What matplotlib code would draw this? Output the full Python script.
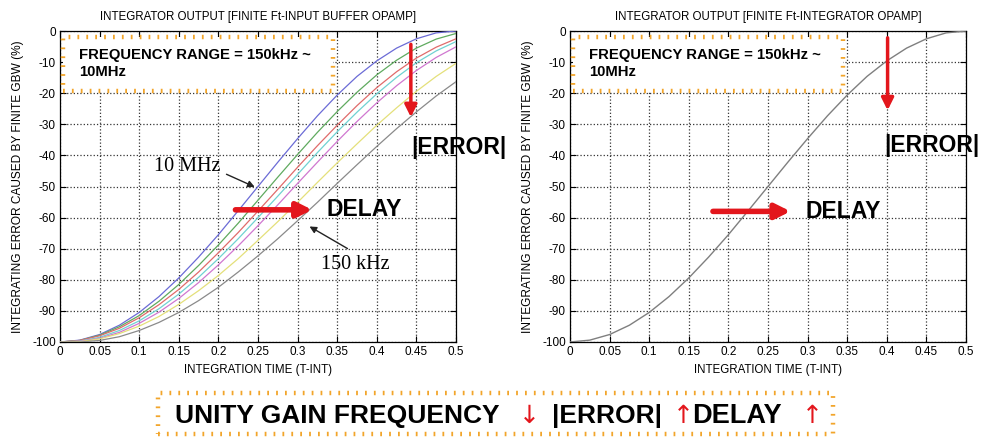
import numpy as np
import matplotlib
matplotlib.use("Agg")
import matplotlib.pyplot as plt
from matplotlib.patches import Rectangle

plt.rcParams['font.family'] = ['Liberation Sans', 'DejaVu Sans']
plt.rcParams['axes.unicode_minus'] = False

# integration time axis (T-INT)
t_int = [0, 0.025, 0.05, 0.075, 0.1, 0.125, 0.15, 0.175, 0.2, 0.225, 0.25,
         0.275, 0.3, 0.325, 0.35, 0.375, 0.4, 0.425, 0.45, 0.475, 0.5]

# integrating error (%) for the input buffer opamp, 10 MHz down to 150 kHz
err_blue = [-100, -99.4, -97.6, -94.6, -90.5, -85.4, -79.4, -72.7, -65.5, -57.8, -50.0,
            -42.2, -34.6, -27.3, -20.6, -14.6, -9.6, -5.5, -2.5, -0.6, 0.0]
err_green = [-100, -99.5, -97.8, -95.1, -91.5, -86.9, -81.5, -75.4, -68.8, -61.8, -54.4,
             -47.0, -39.7, -32.6, -25.9, -19.7, -14.1, -9.4, -5.5, -2.6, -0.8]
err_red = [-100, -99.5, -98.0, -95.6, -92.2, -88.0, -83.1, -77.5, -71.3, -64.8, -57.9,
           -50.9, -43.8, -36.9, -30.3, -24.0, -18.2, -13.1, -8.7, -5.2, -2.5]
err_cyan = [-100, -99.7, -98.5, -96.3, -93.2, -89.3, -84.6, -79.2, -73.2, -66.8, -60.0,
            -53.1, -46.1, -39.1, -32.4, -26.1, -20.2, -14.9, -10.2, -6.4, -3.4]
err_magenta = [-100, -99.8, -98.8, -96.9, -94.0, -90.4, -86.0, -80.9, -75.2, -69.1, -62.6,
               -55.9, -49.0, -42.2, -35.5, -29.1, -23.1, -17.6, -12.7, -8.5, -5.1]
err_yellow = [-100, -99.9, -99.0, -97.3, -94.9, -91.8, -87.9, -83.5, -78.6, -73.2, -67.3,
              -61.3, -55.1, -48.7, -42.4, -36.3, -30.3, -24.7, -19.4, -14.6, -10.4]
err_gray = [-100, -100.0, -99.5, -98.3, -96.3, -93.7, -90.5, -86.7, -82.4, -77.5, -72.3,
            -66.8, -61.0, -55.1, -49.0, -43.0, -37.1, -31.4, -26.0, -20.9, -16.3]

# integrator opamp case: single curve
err_integ = [-100, -99.4, -97.6, -94.6, -90.5, -85.4, -79.4, -72.7, -65.5, -57.8, -50.0,
             -42.2, -34.6, -27.3, -20.6, -14.6, -9.6, -5.5, -2.5, -0.6, 0.0]

buffer_curves = [err_blue, err_green, err_red, err_cyan, err_magenta, err_yellow, err_gray]
buffer_colors = ['#6b6bd6', '#5faa5f', '#e06b6b', '#70d2d2', '#d077d0', '#e4e07a', '#8a8a8a']

xticks = [0, 0.05, 0.1, 0.15, 0.2, 0.25, 0.3, 0.35, 0.4, 0.45, 0.5]
xtick_labels = ['0', '0.05', '0.1', '0.15', '0.2', '0.25', '0.3', '0.35', '0.4', '0.45', '0.5']
yticks = [0, -10, -20, -30, -40, -50, -60, -70, -80, -90, -100]

titles = ['INTEGRATOR OUTPUT [FINITE Ft-INPUT BUFFER OPAMP]',
          'INTEGRATOR OUTPUT [FINITE Ft-INTEGRATOR OPAMP]']

RED = '#e3161c'
ORANGE = '#f2a52a'
DOTS = (0, (0.4, 1.6))

fig = plt.figure(figsize=(9.89, 4.38), dpi=100)
ax1 = fig.add_axes([60 / 989, 96 / 438, 396 / 989, 311 / 438])
ax2 = fig.add_axes([570 / 989, 96 / 438, 396 / 989, 311 / 438])


def style_axes(ax, title):
    ax.set_xlim(0, 0.5)
    ax.set_ylim(-100, 0)
    ax.set_xticks(xticks)
    ax.set_xticklabels(xtick_labels)
    ax.set_yticks(yticks)
    ax.tick_params(direction='in', length=4, top=True, right=True, labelsize=8.5, pad=3)
    ax.grid(True, linestyle=':', color='#333333', linewidth=0.9)
    for s in ax.spines.values():
        s.set_linewidth(0.9)
    ax.set_title(title, fontsize=8.3, pad=8)
    ax.set_xlabel('INTEGRATION TIME (T-INT)', fontsize=8.3, labelpad=4)
    ax.set_ylabel('INTEGRATING ERROR CAUSED BY FINITE GBW (%)', fontsize=8.6)
    ax.yaxis.set_label_coords(-0.092, 0.5)
    # frequency range box
    ax.add_patch(Rectangle((0.004, -19.4), 0.341, 17.5, facecolor='white',
                           edgecolor=ORANGE, linestyle=DOTS, linewidth=3.2, zorder=4))
    ax.text(0.024, -10.5, 'FREQUENCY RANGE = 150kHz ~\n10MHz', fontsize=10.7,
            fontweight='bold', va='center', ha='left', linespacing=1.3, zorder=5)


style_axes(ax1, titles[0])
style_axes(ax2, titles[1])

for vals, col in zip(buffer_curves, buffer_colors):
    ax1.plot(t_int, vals, color=col, linewidth=0.9, zorder=3)
ax2.plot(t_int, err_integ, color='#7f7f7f', linewidth=1.0, zorder=3)

# left panel annotations
ax1.annotate('', xy=(0.249, -50.5), xytext=(0.207, -45.7),
             arrowprops=dict(arrowstyle='-|>', color='#222222', lw=1.0, mutation_scale=10))
ax1.text(0.119, -43.5, '10 MHz', family='Liberation Serif', fontsize=14.5, va='center')
ax1.annotate('', xy=(0.312, -62.4), xytext=(0.366, -70.4),
             arrowprops=dict(arrowstyle='-|>', color='#222222', lw=1.0, mutation_scale=10))
ax1.text(0.330, -75.2, '150 kHz', family='Liberation Serif', fontsize=14.5, va='center')

ax1.annotate('', xy=(0.322, -57.5), xytext=(0.218, -57.5),
             arrowprops=dict(arrowstyle='-|>', color=RED, lw=4, mutation_scale=22))
ax1.text(0.337, -57.5, 'DELAY', fontsize=16.5, fontweight='bold', va='center')
ax1.annotate('', xy=(0.443, -28.6), xytext=(0.443, -3.4),
             arrowprops=dict(arrowstyle='-|>', color=RED, lw=2.5, mutation_scale=18))
ax1.text(0.444, -37.3, '|ERROR|', fontsize=16.5, fontweight='bold', va='center',
         clip_on=False)

# right panel annotations
ax2.annotate('', xy=(0.282, -58.0), xytext=(0.177, -58.0),
             arrowprops=dict(arrowstyle='-|>', color=RED, lw=4, mutation_scale=22))
ax2.text(0.297, -58.0, 'DELAY', fontsize=16.5, fontweight='bold', va='center')
ax2.annotate('', xy=(0.401, -26.4), xytext=(0.401, -1.3),
             arrowprops=dict(arrowstyle='-|>', color=RED, lw=2.5, mutation_scale=18))
ax2.text(0.397, -36.7, '|ERROR|', fontsize=16.5, fontweight='bold', va='center',
         clip_on=False)

# summary box at the bottom
fig.patches.append(Rectangle((158 / 989, 4 / 438), 675 / 989, 41 / 438,
                             transform=fig.transFigure, facecolor='white',
                             edgecolor=ORANGE, linestyle=DOTS, linewidth=3.2))
ty = 22 / 438
fig.text(175 / 989, ty, 'UNITY GAIN FREQUENCY', fontsize=19, fontweight='bold', va='center')
fig.text(529 / 989, ty, '\u2193', fontsize=18, color=RED, va='center', ha='center',
         family='DejaVu Sans')
fig.text(552 / 989, ty, '|ERROR|', fontsize=19, fontweight='bold', va='center')
fig.text(683 / 989, ty, '\u2191', fontsize=18, color=RED, va='center', ha='center',
         family='DejaVu Sans')
fig.text(737 / 989, ty, 'DELAY', fontsize=19.5, fontweight='bold', va='center', ha='center')
fig.text(812 / 989, ty, '\u2191', fontsize=18, color=RED, va='center', ha='center',
         family='DejaVu Sans')

fig.savefig('out.png', dpi=100, facecolor='white')
